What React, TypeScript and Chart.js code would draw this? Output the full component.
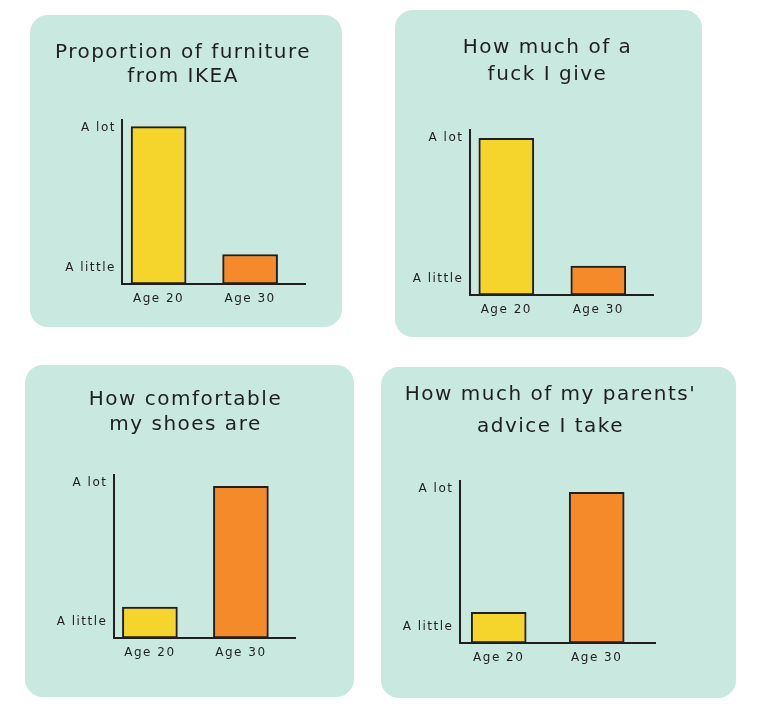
import React, { useEffect, useRef } from "react";
import { Chart, registerables } from "chart.js";

Chart.register(...registerables);

// ---------- data ----------
const categories = ["Age 20", "Age 30"];
const categoryPositions = [0, 1];
const yTickValues = [1, 9.5];
const yTickLabels = ["A little", "A lot"];

const ikeaTitle = ["Proportion of furniture", "from IKEA"];
const careTitle = ["How much of a", "fuck I give"];
const shoesTitle = ["How comfortable", "my shoes are"];
const adviceTitle = ["How much of my parents'", "advice I take"];

const ikeaValues = [9.6, 1.8];
const careValues = [9.5, 1.75];
const shoesValues = [1.9, 9.3];
const adviceValues = [1.9, 9.3];

const barColors = ["#f5d52b", "#f48a2a"];

// ---------- style / layout ----------
const INK = "#1f1f1f";
const PANEL_BG = "#c9e8e0";
const FONT = "'DejaVu Sans', sans-serif";

type PanelCfg = {
  title: string[];
  values: number[];
  panel: { x: number; y: number; w: number; h: number };
  titleCenter: number;
  firstLine: number;
  lineGap: number;
  area: { L: number; R: number; T: number; B: number };
};

const panels: PanelCfg[] = [
  {
    title: ikeaTitle,
    values: ikeaValues,
    panel: { x: 30, y: 15, w: 312, h: 312 },
    titleCenter: 183,
    firstLine: 53,
    lineGap: 24,
    area: { L: 122, R: 305, T: 120, B: 284 },
  },
  {
    title: careTitle,
    values: careValues,
    panel: { x: 395, y: 10, w: 307, h: 327 },
    titleCenter: 547,
    firstLine: 48,
    lineGap: 27,
    area: { L: 469, R: 653, T: 130, B: 295 },
  },
  {
    title: shoesTitle,
    values: shoesValues,
    panel: { x: 25, y: 365, w: 329, h: 332 },
    titleCenter: 185,
    firstLine: 400,
    lineGap: 25,
    area: { L: 113, R: 295, T: 475, B: 638 },
  },
  {
    title: adviceTitle,
    values: adviceValues,
    panel: { x: 381, y: 367, w: 355, h: 331 },
    titleCenter: 550,
    firstLine: 395,
    lineGap: 32,
    area: { L: 459, R: 655, T: 481, B: 643 },
  },
];

const letterSpacingPlugin = {
  id: "letterSpacing",
  beforeLayout(chart: any) {
    chart.ctx.letterSpacing = "1.5px";
  },
  beforeDraw(chart: any) {
    chart.ctx.letterSpacing = "1.5px";
  },
};

function BarPanel({ cfg }: { cfg: PanelCfg }) {
  const ref = useRef<HTMLCanvasElement>(null);
  const canvasLeft = cfg.titleCenter - cfg.panel.w / 2;

  useEffect(() => {
    if (!ref.current) return;
    const { panel, area, lineGap, firstLine } = cfg;
    const titleSize = 20;
    const padTop = firstLine - panel.y - lineGap / 2;
    const padBottom = area.T - panel.y - padTop - 2 * lineGap;
    const leftW = area.L - canvasLeft;
    const rightW = canvasLeft + panel.w - area.R;
    const xAxisH = 30;
    const layoutBottom = panel.y + panel.h - area.B - xAxisH;

    const chart = new Chart(ref.current, {
      type: "bar",
      data: {
        datasets: [
          {
            data: cfg.values.map((v, i) => ({ x: categoryPositions[i], y: v })),
            backgroundColor: barColors,
            borderColor: INK,
            borderWidth: 2,
            borderSkipped: false,
            barThickness: 55,
          } as any,
        ],
      },
      options: {
        animation: false,
        responsive: false,
        maintainAspectRatio: false,
        layout: { padding: { top: 0, left: 0, right: 0, bottom: layoutBottom } },
        plugins: {
          legend: { display: false },
          tooltip: { enabled: false },
          title: {
            display: true,
            text: cfg.title,
            color: INK,
            font: { family: FONT, size: titleSize, weight: "normal", lineHeight: lineGap / titleSize },
            padding: { top: padTop, bottom: padBottom },
          },
        },
        scales: {
          x: {
            type: "linear",
            min: -0.4,
            max: 1.6,
            offset: false,
            grid: { display: false, drawTicks: false },
            border: { display: true, color: INK, width: 2 },
            ticks: {
              color: INK,
              font: { family: FONT, size: 12 },
              padding: 8,
              callback: (v: any) => {
                const idx = categoryPositions.indexOf(Number(v));
                return idx >= 0 ? categories[idx] : "";
              },
            },
            afterBuildTicks: (s: any) => {
              s.ticks = categoryPositions.map((value) => ({ value }));
            },
            afterFit: (s: any) => {
              s.height = xAxisH;
            },
          },
          y: {
            type: "linear",
            position: "left",
            min: 0,
            max: 10,
            grid: { display: false, drawTicks: false },
            border: { display: true, color: INK, width: 2 },
            ticks: {
              color: INK,
              font: { family: FONT, size: 12 },
              padding: 6,
              callback: (v: any) => {
                const idx = yTickValues.indexOf(Number(v));
                return idx >= 0 ? yTickLabels[idx] : "";
              },
            },
            afterBuildTicks: (s: any) => {
              s.ticks = yTickValues.map((value) => ({ value }));
            },
            afterFit: (s: any) => {
              s.width = leftW;
            },
          },
          yRight: {
            type: "linear",
            position: "right",
            display: true,
            grid: { display: false, drawTicks: false },
            border: { display: false },
            ticks: { display: false },
            afterFit: (s: any) => {
              s.width = rightW;
            },
          },
        },
      } as any,
      plugins: [letterSpacingPlugin as any],
    });
    return () => chart.destroy();
  }, []);

  return (
    <canvas
      ref={ref}
      width={cfg.panel.w}
      height={cfg.panel.h}
      style={{
        position: "absolute",
        left: canvasLeft,
        top: cfg.panel.y,
        width: cfg.panel.w,
        height: cfg.panel.h,
      }}
    />
  );
}

export default function App() {
  return (
    <div
      style={{
        position: "absolute",
        left: 0,
        top: 0,
        width: 760,
        height: 712,
        overflow: "hidden",
        background: "#ffffff",
      }}
    >
      {panels.map((p, i) => (
        <div
          key={"bg" + i}
          style={{
            position: "absolute",
            left: p.panel.x,
            top: p.panel.y,
            width: p.panel.w,
            height: p.panel.h,
            background: PANEL_BG,
            borderRadius: 18,
          }}
        />
      ))}
      {panels.map((p, i) => (
        <BarPanel key={"c" + i} cfg={p} />
      ))}
    </div>
  );
}
